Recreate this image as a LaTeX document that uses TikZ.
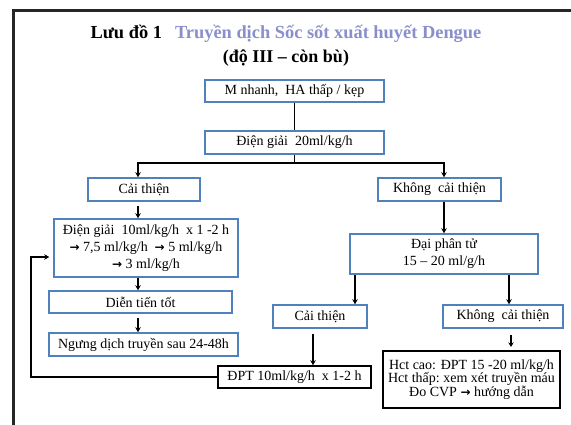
\documentclass[tikz,border=0pt]{standalone}
\usepackage{fontspec}
\setmainfont{Liberation Serif}
\newfontfamily\arrowfont{DejaVu Sans}
\usetikzlibrary{arrows.meta,calc}
\definecolor{boxblue}{RGB}{79,129,189}
\definecolor{titleblue}{RGB}{138,143,204}
\definecolor{framegray}{RGB}{38,38,38}
\newcommand{\ra}{{\arrowfont\bfseries\fontsize{12}{12}\selectfont →}}
\begin{document}
\begin{tikzpicture}[x=1pt,y=-1pt,
  basebox/.style={fill=white,inner sep=0pt,align=center,
    font=\fontsize{14}{17}\selectfont},
  bluebox/.style={basebox,draw=boxblue,line width=1.5pt},
  blackbox/.style={basebox,draw=black,line width=1.5pt},
  link/.style={line width=1.5pt,black},
  arr/.style={link,-{Stealth[length=5pt,width=5.5pt]}}]
\useasboundingbox (0,0) rectangle (571,424);
\clip (0,0) rectangle (571,424);
\fill[white] (0,0) rectangle (571,424);

% outer frame (only the top and left edges fall inside the page)
\draw[framegray,line width=2.3pt] (13.5,440) -- (13.5,10.5) -- (590,10.5);

% heading
\node[anchor=base,font=\fontsize{18.4}{18}\selectfont\bfseries] (title) at (286,38)
  {Lưu đồ 1\hspace{13pt}\textcolor{titleblue}{Truyền dịch Sốc sốt xuất huyết Dengue}};
\node[anchor=base,font=\fontsize{18}{18}\selectfont\bfseries] (subtitle) at (286,62)
  {(độ III – còn bù)};

% boxes
\node[bluebox,minimum width=179pt,minimum height=22pt] (b1) at (294.5,91)
  {M nhanh,\ \ HA thấp / kẹp};
\node[bluebox,minimum width=179pt,minimum height=23pt] (b2) at (294.5,142.5)
  {Điện giải\ \ 20ml/kg/h};
\node[bluebox,minimum width=112pt,minimum height=23pt] (cl) at (144,189.5)
  {Cải thiện};
\node[bluebox,minimum width=123pt,minimum height=23pt] (kr) at (439.5,189.5)
  {Không\ \ cải thiện};
\node[bluebox,minimum width=184pt,minimum height=58pt] (inf) at (146,248)
  {Điện giải\ \ 10ml/kg/h\ \ x 1 -2 h\\ \ra\ 7,5 ml/kg/h\ \ \ra\ 5 ml/kg/h\\ \ra\ 3 ml/kg/h};
\node[bluebox,minimum width=183pt,minimum height=22pt] (good) at (140.5,302)
  {Diễn tiến tốt};
\node[bluebox,minimum width=189pt,minimum height=23pt] (stop) at (143.5,344.5)
  {Ngưng dịch truyền sau 24-48h};
\node[bluebox,minimum width=188pt,minimum height=40pt] (dpt) at (444,254)
  {Đại phân tử\\ 15 – 20 ml/g/h};
\node[bluebox,minimum width=94pt,minimum height=23pt] (cm) at (320,316.5)
  {Cải thiện};
\node[bluebox,minimum width=120pt,minimum height=23pt] (kk) at (503,316.5)
  {Không\ \ cải thiện};
\node[blackbox,minimum width=153pt,minimum height=22pt] (rep) at (294.5,377)
  {ĐPT 10ml/kg/h\ \ x 1-2 h};
\node[blackbox,line width=2.3pt,minimum width=177pt,minimum height=57pt,
  font=\fontsize{14}{13.5}\selectfont] (hct) at (471.5,379.5)
  {Hct cao: ĐPT 15 -20 ml/kg/h\\ Hct thấp:\ xem xét truyền máu\\ Đo CVP \ra\ hướng dẫn};

% columns for vertical connectors
\coordinate (colL) at (138,0);
\coordinate (colR) at (444,0);
\coordinate (colM) at (355,0);
\coordinate (colK) at (509,0);
\coordinate (colD) at (313,0);
\coordinate (colH) at (511,0);
\coordinate (split) at (294.5,163);
\coordinate (fb) at (31,257);

% connectors
\draw[link] (b1.south) -- (b2.north);
\draw[link] (b2.south) -- (split);
\draw[arr] (split) -| (colL |- cl.north);
\draw[arr] (split) -| (colR |- kr.north);
\draw[arr,shorten <=4pt] (colL |- cl.south) -- (colL |- inf.north);
\draw[arr] (colL |- inf.south) -- (colL |- good.north);
\draw[arr,shorten <=4pt] (colL |- good.south) -- (colL |- stop.north);
\draw[arr] (colR |- kr.south) -- (colR |- dpt.north);
\draw[arr] (colM |- dpt.south) -- (colM |- cm.north);
\draw[arr] (colK |- dpt.south) -- (colK |- kk.north);
\draw[arr,shorten <=5pt] (colD |- cm.south) -- (colD |- rep.north);
\draw[link,-{Stealth[length=4.5pt,width=5.5pt]},shorten <=6pt,shorten >=3pt]
  (colH |- kk.south) -- (colH |- hct.north);
\draw[arr,shorten >=4pt] (rep.west) -| (fb) -- (inf.west |- fb);
\end{tikzpicture}
\end{document}
